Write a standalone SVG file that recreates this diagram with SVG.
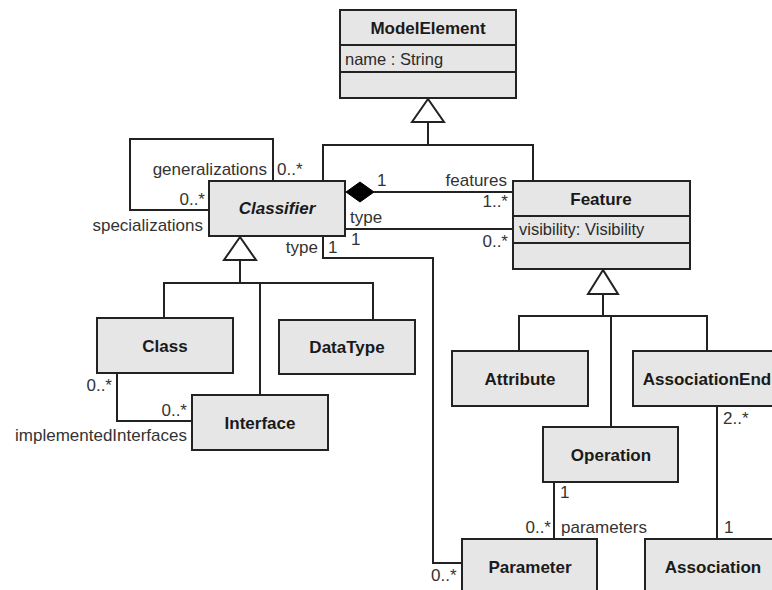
<svg xmlns="http://www.w3.org/2000/svg" width="772" height="590" viewBox="0 0 772 590">
  <style>
    .box { fill: #e6e6e6; stroke: #222; stroke-width: 2; }
    .div { stroke: #222; stroke-width: 2; }
    .name { font-family: "Liberation Sans", Arial, sans-serif; font-size: 17px; font-weight: bold; fill: #1a1a1a; text-anchor: middle; }
    .attr { font-family: "Liberation Sans", Arial, sans-serif; font-size: 16.5px; fill: #2a2a2a; }
    .lbl { font-family: "Liberation Sans", Arial, sans-serif; font-size: 17px; fill: #333; }
    .end { text-anchor: end; }
    .wire { fill: none; stroke: #222; stroke-width: 2; }
    .tri { fill: #fff; stroke: #222; stroke-width: 2; }
    .dia { fill: #000; stroke: #000; stroke-width: 1; }
  </style>
  <rect width="772" height="590" fill="#fff"/>

  <!-- connectors -->
  <g id="connectors">
    <!-- ModelElement generalization -->
    <polyline class="wire" points="323,181 323,145 533,145 533,181"/>
    <line class="wire" x1="428" y1="122" x2="428" y2="145"/>
    <polygon class="tri" points="428,99 412,122 444,122"/>

    <!-- Classifier self association -->
    <polyline class="wire" points="273,181 273,139 130,139 130,210 209,210"/>

    <!-- composition Classifier-Feature -->
    <line class="wire" x1="374" y1="192" x2="513" y2="192"/>
    <polygon class="dia" points="346,192 360,182 374,192 360,202"/>

    <!-- type association Classifier-Feature -->
    <line class="wire" x1="345" y1="229" x2="513" y2="229"/>

    <!-- type association Classifier-Parameter -->
    <polyline class="wire" points="323,236 323,258 433,258 433,563 462,563"/>

    <!-- Classifier generalization -->
    <polyline class="wire" points="164,318 164,283 373,283 373,320"/>
    <line class="wire" x1="240" y1="260" x2="240" y2="283"/>
    <line class="wire" x1="260" y1="283" x2="260" y2="395"/>
    <polygon class="tri" points="240,237 224,260 256,260"/>

    <!-- Class-Interface association -->
    <polyline class="wire" points="117,373 117,421 192,421"/>

    <!-- Feature generalization -->
    <polyline class="wire" points="519,351 519,316 707,316 707,351"/>
    <line class="wire" x1="603" y1="294" x2="603" y2="316"/>
    <line class="wire" x1="611" y1="316" x2="611" y2="427"/>
    <polygon class="tri" points="603,270 588,294 618,294"/>

    <!-- Operation-Parameter -->
    <line class="wire" x1="554" y1="482" x2="554" y2="539"/>

    <!-- AssociationEnd-Association -->
    <line class="wire" x1="717" y1="406" x2="717" y2="539"/>
  </g>

  <!-- connector end labels -->
  <g id="labels">
    <text class="lbl end" x="267" y="175">generalizations</text>
    <text class="lbl" x="277" y="175">0..*</text>
    <text class="lbl end" x="205" y="205">0..*</text>
    <text class="lbl end" x="203" y="231">specializations</text>

    <text class="lbl" x="377" y="186">1</text>
    <text class="lbl end" x="507" y="186">features</text>
    <text class="lbl end" x="508" y="207">1..*</text>

    <text class="lbl" x="350" y="223">type</text>
    <text class="lbl" x="351" y="245">1</text>
    <text class="lbl end" x="508" y="247">0..*</text>

    <text class="lbl end" x="318" y="253">type</text>
    <text class="lbl" x="328" y="253">1</text>
    <text class="lbl" x="431" y="581">0..*</text>

    <text class="lbl end" x="112" y="391">0..*</text>
    <text class="lbl end" x="187" y="416">0..*</text>
    <text class="lbl end" x="187" y="441">implementedInterfaces</text>

    <text class="lbl" x="560" y="498">1</text>
    <text class="lbl end" x="551" y="533">0..*</text>
    <text class="lbl" x="561" y="533">parameters</text>

    <text class="lbl" x="723" y="424">2..*</text>
    <text class="lbl" x="724" y="533">1</text>
  </g>

  <!-- classes -->
  <g id="ModelElement">
    <rect class="box" x="340" y="10" width="176" height="88"/>
    <line class="div" x1="340" y1="45" x2="516" y2="45"/>
    <line class="div" x1="340" y1="72" x2="516" y2="72"/>
    <text class="name" x="428" y="34">ModelElement</text>
    <text class="attr" x="345" y="65">name : String</text>
  </g>

  <g id="Classifier">
    <rect class="box" x="209" y="181" width="136" height="55"/>
    <text class="name" x="277" y="214" font-style="italic">Classifier</text>
  </g>

  <g id="Feature">
    <rect class="box" x="513" y="181" width="177" height="88"/>
    <line class="div" x1="513" y1="216" x2="690" y2="216"/>
    <line class="div" x1="513" y1="243" x2="690" y2="243"/>
    <text class="name" x="601" y="205">Feature</text>
    <text class="attr" x="519" y="235">visibility: Visibility</text>
  </g>

  <g id="Class">
    <rect class="box" x="97" y="318" width="136" height="55"/>
    <text class="name" x="165" y="352">Class</text>
  </g>

  <g id="DataType">
    <rect class="box" x="279" y="320" width="136" height="54"/>
    <text class="name" x="347" y="353">DataType</text>
  </g>

  <g id="Interface">
    <rect class="box" x="192" y="395" width="136" height="55"/>
    <text class="name" x="260" y="429">Interface</text>
  </g>

  <g id="Attribute">
    <rect class="box" x="452" y="351" width="136" height="55"/>
    <text class="name" x="520" y="385">Attribute</text>
  </g>

  <g id="AssociationEnd">
    <rect class="box" x="633" y="351" width="150" height="55"/>
    <text class="name" x="707" y="385">AssociationEnd</text>
  </g>

  <g id="Operation">
    <rect class="box" x="543" y="427" width="135" height="55"/>
    <text class="name" x="611" y="461">Operation</text>
  </g>

  <g id="Parameter">
    <rect class="box" x="462" y="539" width="135" height="60"/>
    <text class="name" x="530" y="573">Parameter</text>
  </g>

  <g id="Association">
    <rect class="box" x="645" y="539" width="140" height="60"/>
    <text class="name" x="713" y="573">Association</text>
  </g>
</svg>
